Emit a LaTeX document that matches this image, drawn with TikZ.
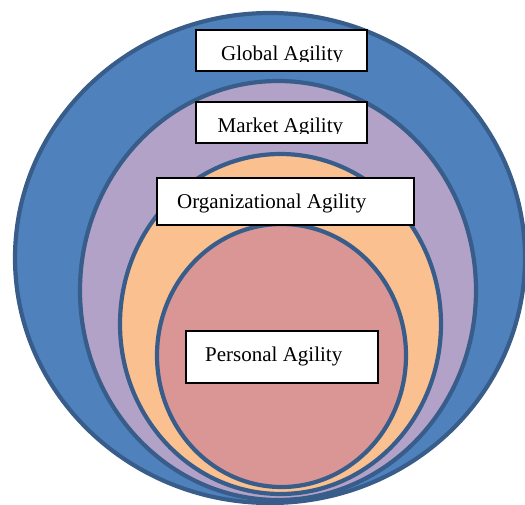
\documentclass[tikz,border=0pt]{standalone}
\usepackage{fontspec}
\setmainfont{Liberation Serif}
\definecolor{ringline}{HTML}{385D8A}
\definecolor{globalfill}{HTML}{4F81BD}
\definecolor{marketfill}{HTML}{B3A2C7}
\definecolor{orgfill}{HTML}{FAC090}
\definecolor{personalfill}{HTML}{D99694}
\tikzset{
  ring/.style={draw=ringline, line width=4.2pt},
  labelbox/.style={draw=black, fill=white, line width=1.3pt, rectangle, inner sep=0pt},
  labeltext/.style={anchor=base west, inner sep=0pt, font=\fontsize{21pt}{25pt}\selectfont}
}
\begin{document}
\begin{tikzpicture}[x=1pt,y=-1pt]
  \useasboundingbox (0,0) rectangle (525,504);
  \begin{scope}
    \clip (0,0) rectangle (525,504);
    % nested agility levels, outermost first
    \draw[ring, fill=globalfill]   (270,258)   ellipse [x radius=255pt, y radius=245pt];
    \draw[ring, fill=marketfill]   (278,290.5) ellipse [x radius=198pt, y radius=209.5pt];
    \draw[ring, fill=orgfill]      (280.5,324) ellipse [x radius=160.5pt, y radius=170pt];
    \draw[ring, fill=personalfill] (281.5,355.5) ellipse [x radius=124.5pt, y radius=131.5pt];
  \end{scope}

  % label boxes
  \node[labelbox, minimum width=171pt, minimum height=41pt] (globalbox)   at (281.5,50.5)  {};
  \node[labelbox, minimum width=171pt, minimum height=41pt] (marketbox)   at (281.5,122.5) {};
  \node[labelbox, minimum width=257pt, minimum height=47pt] (orgbox)      at (285.5,201.5) {};
  \node[labelbox, minimum width=192pt, minimum height=52pt] (personalbox) at (282,357)     {};

  % labels (the two upper ones are cut off just below the baseline)
  \begin{scope}
    \clip (196,30) rectangle (367,61.5);
    \node[labeltext] (globaltext) at (221,60) {Global Agility};
  \end{scope}
  \begin{scope}
    \clip (196,102) rectangle (367,133.5);
    \node[labeltext] (markettext) at (217.5,132) {Market Agility};
  \end{scope}
  \node[labeltext] (orgtext)      at (177,208) {Organizational Agility};
  \node[labeltext] (personaltext) at (205,361) {Personal Agility};
\end{tikzpicture}
\end{document}
